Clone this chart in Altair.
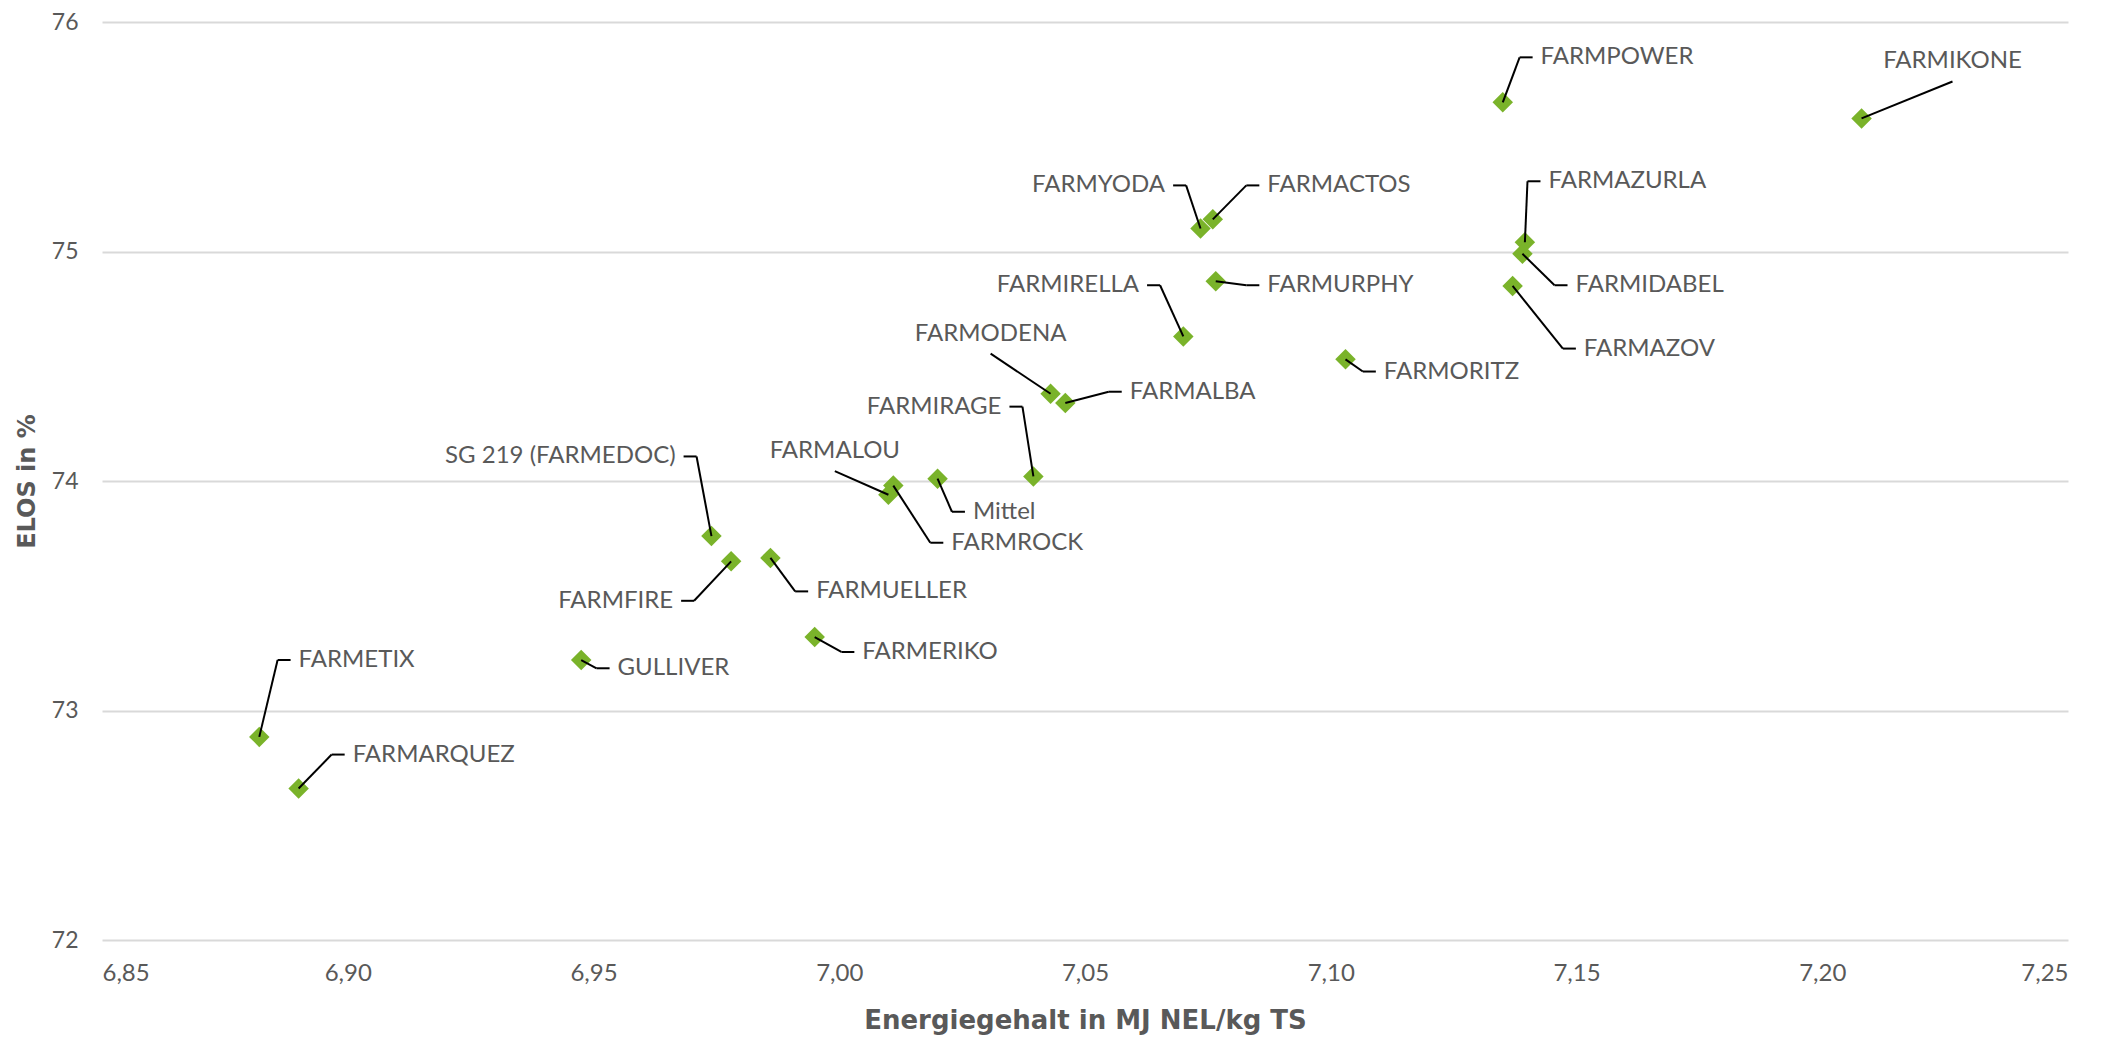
import altair as alt
import pandas as pd

names = ["FARMPOWER", "FARMIKONE", "FARMYODA", "FARMACTOS", "FARMAZURLA", "FARMIDABEL",
         "FARMURPHY", "FARMAZOV", "FARMIRELLA", "FARMORITZ", "FARMODENA", "FARMALBA",
         "FARMIRAGE", "Mittel", "FARMALOU", "FARMROCK", "SG 219 (FARMEDOC)", "FARMFIRE",
         "FARMUELLER", "FARMERIKO", "GULLIVER", "FARMETIX", "FARMARQUEZ"]
energie = [7.135, 7.208, 7.0735, 7.076, 7.1395, 7.139,
           7.0766, 7.137, 7.070, 7.103, 7.043, 7.046,
           7.0395, 7.020, 7.010, 7.011, 6.974, 6.978,
           6.986, 6.995, 6.9475, 6.882, 6.890]
elos = [75.65, 75.58, 75.10, 75.14, 75.04, 74.99,
        74.87, 74.85, 74.63, 74.53, 74.38, 74.34,
        74.02, 74.01, 73.94, 73.98, 73.76, 73.65,
        73.665, 73.32, 73.22, 72.885, 72.66]
# data-label anchor positions (as placed in the original chart)
label_x = [7.1427, 7.2265, 7.0663, 7.0871, 7.1443, 7.1498,
           7.0871, 7.1515, 7.0610, 7.1108, 7.0308, 7.0591,
           7.0330, 7.0272, 6.9991, 7.0228, 6.9667, 6.9662,
           6.9953, 7.0047, 6.9549, 6.8900, 6.9010]
label_y = [75.846, 75.828, 75.288, 75.288, 75.306, 74.853,
           74.853, 74.577, 74.853, 74.477, 74.642, 74.389,
           74.324, 73.866, 74.130, 73.731, 74.107, 73.478,
           73.519, 73.255, 73.184, 73.220, 72.808]
label_side = ["right", "below", "left", "right", "right", "right",
              "right", "right", "left", "right", "below", "right",
              "left", "right", "below", "right", "left", "left",
              "right", "right", "right", "right", "right"]

x_ticks = [6.85, 6.90, 6.95, 7.00, 7.05, 7.10, 7.15, 7.20, 7.25]
y_ticks = [72, 73, 74, 75, 76]

df = pd.DataFrame({"name": names, "energie": energie, "elos": elos,
                   "lx": label_x, "ly": label_y, "side": label_side})

GREEN = "#7AB32A"
TEXT = "#595959"
GRID = "#D9D9D9"

xscale = alt.Scale(domain=[6.85, 7.25], nice=False, zero=False)
yscale = alt.Scale(domain=[72, 76], nice=False, zero=False)

xaxis = alt.Axis(values=x_ticks, title="Energiegehalt in MJ NEL/kg TS",
                 labelExpr="replace(format(datum.value, '.2f'), '.', ',')",
                 grid=False, domain=False, ticks=False, tickSize=0,
                 labelPadding=21, titlePadding=22,
                 labelFont="Lato", labelFontSize=24, labelColor=TEXT,
                 titleFont="DejaVu Sans", titleFontSize=26, titleFontWeight="bold",
                 titleColor=TEXT)
yaxis = alt.Axis(values=y_ticks, title="ELOS in %", format="d",
                 grid=True, gridColor=GRID, gridWidth=2,
                 domain=False, ticks=False, tickSize=0,
                 labelPadding=24, titlePadding=12,
                 labelFont="Lato", labelFontSize=23, labelColor=TEXT,
                 titleFont="DejaVu Sans", titleFontSize=24, titleFontWeight="bold",
                 titleColor=TEXT)

def X(field):
    return alt.X(field, scale=xscale, axis=xaxis, title="Energiegehalt in MJ NEL/kg TS")

def Y(field):
    return alt.Y(field, scale=yscale, axis=yaxis, title="ELOS in %")

base = alt.Chart(df)

points = base.mark_point(shape="diamond", filled=True, size=420, opacity=1, color=GREEN).encode(
    x=X("energie:Q"), y=Y("elos:Q"))

def leader(side, **kw):
    return base.transform_filter(alt.datum.side == side).mark_rule(
        color="black", strokeWidth=2, **kw).encode(
        x=X("energie:Q"), y=Y("elos:Q"), x2="lx:Q", y2="ly:Q")

def tick(side, **kw):
    return base.transform_filter(alt.datum.side == side).mark_rule(
        color="black", strokeWidth=2, **kw).encode(
        x=X("lx:Q"), x2="lx:Q", y=Y("ly:Q"))

def labels(side, align, **kw):
    return base.transform_filter(alt.datum.side == side).mark_text(
        align=align, baseline="middle", font="Lato", fontSize=24, color=TEXT, **kw).encode(
        x=X("lx:Q"), y=Y("ly:Q"), text="name:N")

chart = alt.layer(
    points,
    leader("right", x2Offset=-21),
    tick("right", xOffset=-21, x2Offset=-8),
    leader("left", x2Offset=21),
    tick("left", xOffset=8, x2Offset=21),
    leader("below", y2Offset=20),
    labels("right", "left"),
    labels("left", "right"),
    labels("below", "center"),
).properties(
    width=1966, height=918,
    autosize=alt.AutoSizeParams(type="none"),
    padding={"left": 94, "top": 14, "right": 40, "bottom": 95},
).configure(background="white").configure_view(stroke=None)

chart.save("out.html", embed_options={"renderer": "svg", "actions": False})
